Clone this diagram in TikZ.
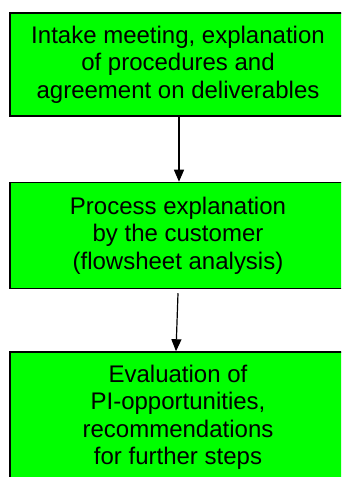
\documentclass[tikz,border=0pt]{standalone}
\usepackage{fontspec}
\setmainfont{Liberation Sans}
\usetikzlibrary{positioning,arrows.meta}
\definecolor{boxgreen}{RGB}{0,255,0}

\begin{document}
\begin{tikzpicture}[node distance=65pt, auto,
    box/.style={draw, line width=1.5pt, fill=boxgreen, minimum width=336pt,
      align=center, inner sep=0pt, font=\fontsize{24}{27.5}\selectfont},
    arr/.style={-{Triangle[length=12pt,width=10pt]}, line width=1.2pt}]
  \useasboundingbox (0,0) rectangle (341pt,477pt);
  \clip (0,0) rectangle (341pt,477pt);

  \node[box, minimum height=103pt] (intake) at (178pt,412.5pt)
    {Intake meeting, explanation\\ of procedures and\\ agreement on deliverables};
  \node[box, minimum height=106pt, below=65pt of intake] (process)
    {Process explanation\\ by the customer\\ (flowsheet analysis)};
  \node[box, minimum height=131pt, below=62pt of process] (evaluation)
    {Evaluation of\\ PI-opportunities,\\ recommendations\\ for further steps};

  \draw[arr] ([xshift=1pt]intake.south) -- ([xshift=1pt]process.north);
  \draw[arr] ([yshift=-4pt]process.south) -- ([xshift=-2pt]evaluation.north);

\end{tikzpicture}
\end{document}
